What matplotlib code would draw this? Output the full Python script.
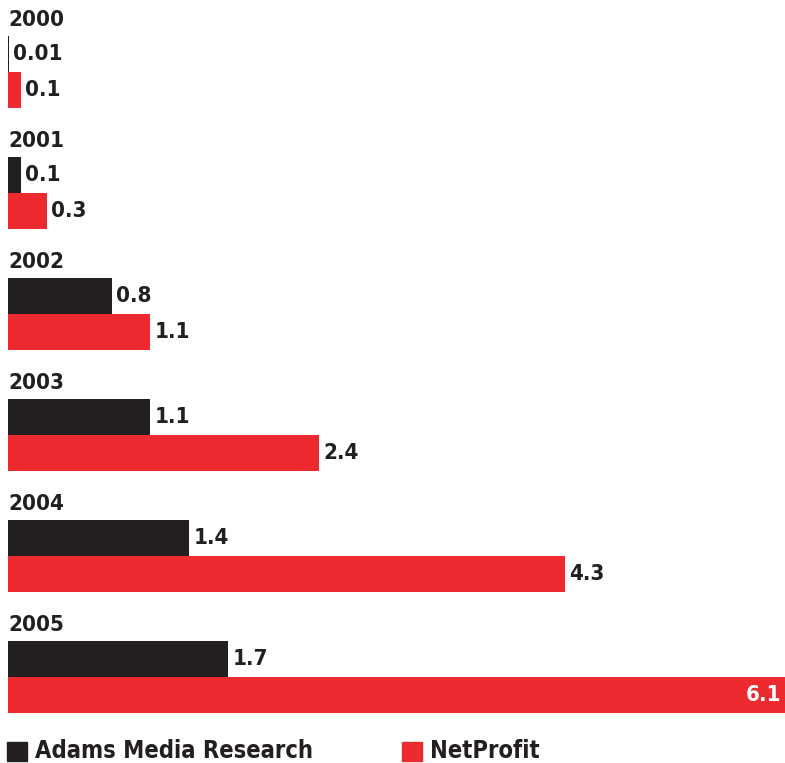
import matplotlib
matplotlib.use("Agg")
import matplotlib.pyplot as plt
from matplotlib.patches import Rectangle

years = ["2000", "2001", "2002", "2003", "2004", "2005"]
adams = [0.01, 0.1, 0.8, 1.1, 1.4, 1.7]
netprofit = [0.1, 0.3, 1.1, 2.4, 4.3, 6.1]
series_names = ["Adams Media Research", "NetProfit"]

DARK = "#231f20"
RED = "#ec2a2f"
W, H = 785, 763
FONT = dict(fontweight="bold", fontstretch="condensed", family=["DejaVu Sans"])

fig = plt.figure(figsize=(W / 100, H / 100), dpi=100)
ax = fig.add_axes([8 / W, 0, 1 - 8 / W, 1])

BAR_H = 0.3
pos = list(range(len(years)))

ax.barh([p - BAR_H / 2 for p in pos], adams, height=BAR_H, color=DARK)
ax.barh([p + BAR_H / 2 for p in pos], netprofit, height=BAR_H, color=RED)

ax.set_xlim(0, 777 / 129.5)
ax.set_ylim((H - 72) / 121, -72 / 121)
ax.axis("off")

for p, yr in zip(pos, years):
    ax.text(0, p - 0.43, yr, ha="left", va="center", color=DARK,
            fontsize=16, **FONT)

xmax = ax.get_xlim()[1]
for p, a, n in zip(pos, adams, netprofit):
    ax.annotate(f"{a:g}", (a, p - BAR_H / 2), xytext=(3, 0),
                textcoords="offset points", ha="left", va="center",
                color=DARK, fontsize=16, **FONT)
    if n > xmax:
        # bar runs off the edge: label sits inside at the axes edge, in white
        ax.annotate(f"{n:g}", (xmax, p + BAR_H / 2), xytext=(-2.5, 0),
                    textcoords="offset points", ha="right", va="center",
                    color="white", fontsize=16, **FONT)
    else:
        ax.annotate(f"{n:g}", (n, p + BAR_H / 2), xytext=(3, 0),
                    textcoords="offset points", ha="left", va="center",
                    color=DARK, fontsize=16, **FONT)

# legend along the bottom edge
for x0, color, name in [(7, DARK, series_names[0]), (402, RED, series_names[1])]:
    fig.patches.append(Rectangle((x0 / W, (H - 761) / H), 20 / W, 19 / H,
                                 transform=fig.transFigure, color=color))
    fig.text((x0 + 28) / W, (H - 751) / H, name, ha="left", va="center",
             color=DARK, fontsize=17, **FONT)

fig.savefig("out.png", dpi=100)
